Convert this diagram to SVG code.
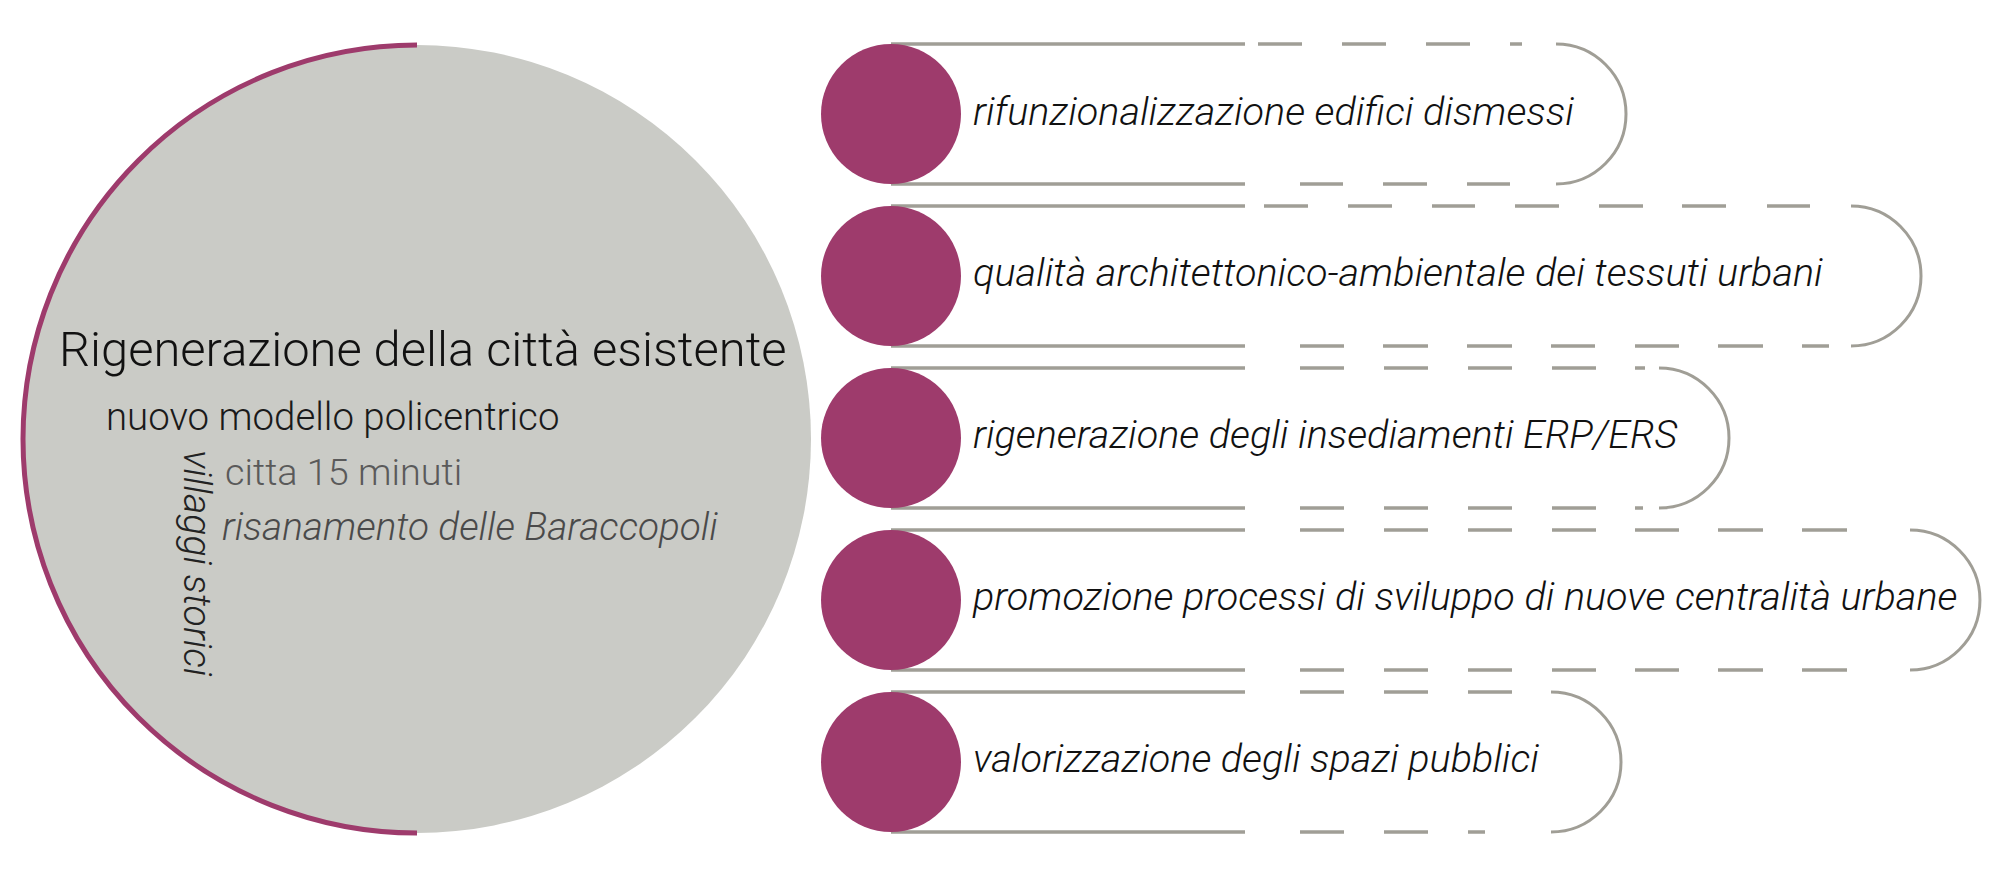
<svg xmlns="http://www.w3.org/2000/svg" width="1998" height="874" viewBox="0 0 1998 874">
<style>
  .t { font-family: Roboto, "Liberation Sans", sans-serif; font-weight: 300; }
  .cap { font-family: Roboto, "Liberation Sans", sans-serif; font-weight: 300; font-style: italic; font-size: 39.6px; fill: #111; }
  .dot { fill: #9e3b6c; }
  .ln { fill: none; stroke: #a09e96; stroke-width: 3.5; stroke-linecap: butt; }
  .arc { fill: none; stroke: #a09e96; stroke-width: 3; }
</style>
<rect width="1998" height="874" fill="#ffffff"/>

<g id="main">
  <circle cx="417" cy="439" r="394" fill="#cacbc6"/>
  <path d="M417 45 A394 394 0 0 0 417 833" fill="none" stroke="#9e3b6c" stroke-width="5"/>
  <text class="t" x="59" y="366" font-size="48.9" fill="#111">Rigenerazione della città esistente</text>
  <text class="t" x="106" y="430" font-size="38.4" fill="#1a1a1a">nuovo modello policentrico</text>
  <text class="t" x="225" y="485" font-size="37.8" font-weight="100" fill="#5a5a5a">citta 15 minuti</text>
  <text class="t" x="222" y="540" font-size="38.7" font-weight="100" font-style="italic" fill="#4a4a4a">risanamento delle Baraccopoli</text>
  <text class="t" transform="translate(184 450) rotate(90)" font-size="39.2" font-style="italic" fill="#222">villaggi storici</text>
</g>

<g id="item1">
  <path class="ln" d="M891 44 H1245 M1258 44 H1302 M1342 44 H1386 M1426 44 H1470 M1510 44 H1522"/>
  <path class="ln" d="M891 184 H1245 M1300 184 H1343 M1383 184 H1427 M1467 184 H1510"/>
  <path class="arc" d="M1556 44 A70 70 0 0 1 1556 184"/>
  <circle class="dot" cx="891" cy="114" r="70"/>
  <text class="cap" x="973" y="125">rifunzionalizzazione edifici dismessi</text>
</g>

<g id="item2">
  <path class="ln" d="M891 206 H1245 M1264 206 H1308 M1348 206 H1392 M1432 206 H1475 M1515 206 H1559 M1599 206 H1643 M1682 206 H1726 M1767 206 H1810"/>
  <path class="ln" d="M891 346 H1245 M1300 346 H1344 M1383 346 H1428 M1467 346 H1512 M1551 346 H1595 M1635 346 H1679 M1718 346 H1763 M1802 346 H1829"/>
  <path class="arc" d="M1851 206 A70 70 0 0 1 1851 346"/>
  <circle class="dot" cx="891" cy="276" r="70"/>
  <text class="cap" x="973" y="286">qualità architettonico-ambientale dei tessuti urbani</text>
</g>

<g id="item3">
  <path class="ln" d="M891 368 H1245 M1300 368 H1344 M1384 368 H1428 M1468 368 H1512 M1552 368 H1596 M1635 368 H1645"/>
  <path class="ln" d="M891 508 H1245 M1300 508 H1344 M1384 508 H1428 M1468 508 H1512 M1552 508 H1596 M1635 508 H1643"/>
  <path class="arc" d="M1659 368 A70 70 0 0 1 1659 508"/>
  <circle class="dot" cx="891" cy="438" r="70"/>
  <text class="cap" x="973" y="448">rigenerazione degli insediamenti ERP/ERS</text>
</g>

<g id="item4">
  <path class="ln" d="M891 530 H1245 M1300 530 H1344 M1384 530 H1428 M1468 530 H1512 M1552 530 H1596 M1635 530 H1679 M1718 530 H1763 M1802 530 H1847"/>
  <path class="ln" d="M891 670 H1245 M1300 670 H1344 M1384 670 H1428 M1468 670 H1512 M1552 670 H1596 M1635 670 H1679 M1718 670 H1763 M1802 670 H1847"/>
  <path class="arc" d="M1910 530 A70 70 0 0 1 1910 670"/>
  <circle class="dot" cx="891" cy="600" r="70"/>
  <text class="cap" x="973" y="610">promozione processi di sviluppo di nuove centralità urbane</text>
</g>

<g id="item5">
  <path class="ln" d="M891 692 H1245 M1300 692 H1344 M1384 692 H1428 M1468 692 H1512"/>
  <path class="ln" d="M891 832 H1245 M1300 832 H1344 M1384 832 H1428 M1468 832 H1485"/>
  <path class="arc" d="M1551 692 A70 70 0 0 1 1551 832"/>
  <circle class="dot" cx="891" cy="762" r="70"/>
  <text class="cap" x="973" y="772">valorizzazione degli spazi pubblici</text>
</g>
</svg>
